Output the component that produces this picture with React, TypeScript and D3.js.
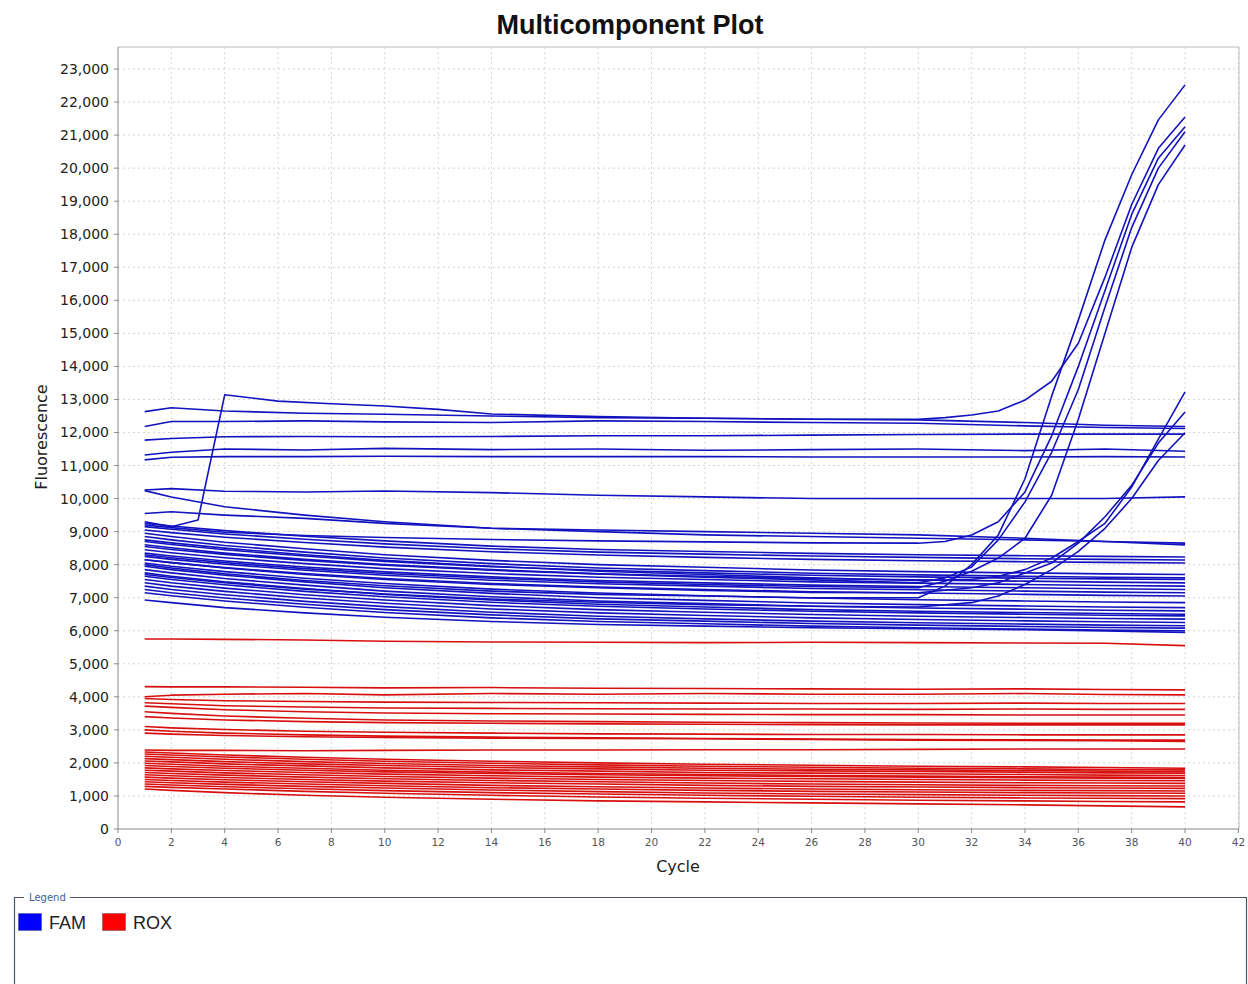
import * as d3 from 'd3';

const BASE_CYCLES = [1, 2, 4, 7, 10, 14, 18, 22, 26, 30, 34, 37, 40];

const famBaseline: number[][] = [
  [12630, 12750, 12650, 12580, 12550, 12500, 12450, 12430, 12400, 12380, 12300, 12220, 12180],
  [12180, 12330, 12330, 12350, 12320, 12300, 12350, 12330, 12300, 12280, 12200, 12150, 12120],
  [11770, 11820, 11870, 11880, 11870, 11880, 11900, 11900, 11920, 11940, 11950, 11950, 11950],
  [11320, 11400, 11500, 11470, 11520, 11480, 11500, 11460, 11480, 11500, 11450, 11500, 11430],
  [11170, 11250, 11270, 11270, 11280, 11270, 11270, 11270, 11260, 11260, 11260, 11270, 11260],
  [10260, 10300, 10220, 10200, 10230, 10180, 10100, 10050, 10000, 10000, 10000, 10000, 10050],
  [10240, 10050, 9750, 9500, 9300, 9100, 9000, 8900, 8850, 8800, 8750, 8700, 8650],
  [9550, 9600, 9500, 9400, 9250, 9100, 9050, 9000, 8950, 8900, 8800, 8700, 8600],
  [9250, 9170, 9030, 8860, 8720, 8560, 8460, 8400, 8340, 8300, 8270, 8250, 8230],
  [9150, 9070, 8930, 8770, 8630, 8480, 8380, 8320, 8260, 8220, 8180, 8160, 8140],
  [9050, 8970, 8830, 8670, 8530, 8390, 8290, 8220, 8160, 8120, 8090, 8070, 8050],
  [8950, 8850, 8680, 8480, 8300, 8130, 8000, 7920, 7840, 7790, 7750, 7720, 7700],
  [8850, 8750, 8580, 8380, 8200, 8030, 7900, 7820, 7740, 7690, 7650, 7620, 7600],
  [8700, 8610, 8450, 8260, 8100, 7940, 7830, 7750, 7680, 7630, 7590, 7570, 7550],
  [8550, 8460, 8310, 8130, 7980, 7830, 7720, 7650, 7580, 7540, 7500, 7470, 7450],
  [8450, 8360, 8210, 8030, 7880, 7730, 7620, 7550, 7480, 7440, 7400, 7370, 7350],
  [8350, 8260, 8110, 7930, 7780, 7630, 7520, 7450, 7380, 7340, 7300, 7270, 7250],
  [8250, 8160, 8010, 7830, 7680, 7530, 7420, 7350, 7280, 7240, 7200, 7170, 7150],
  [8150, 8060, 7910, 7730, 7580, 7430, 7320, 7250, 7180, 7140, 7100, 7070, 7050],
  [8050, 7950, 7790, 7590, 7430, 7260, 7140, 7060, 6990, 6940, 6900, 6870, 6850],
  [7950, 7850, 7680, 7480, 7300, 7130, 7000, 6920, 6840, 6790, 6750, 6720, 6700],
  [7850, 7750, 7580, 7380, 7200, 7030, 6900, 6820, 6740, 6690, 6650, 6620, 6600],
  [7750, 7650, 7480, 7280, 7100, 6930, 6800, 6720, 6640, 6590, 6550, 6520, 6500],
  [7650, 7550, 7390, 7190, 7030, 6860, 6740, 6660, 6590, 6540, 6500, 6470, 6450],
  [7550, 7450, 7290, 7090, 6930, 6760, 6640, 6560, 6490, 6440, 6400, 6370, 6350],
  [7450, 7350, 7190, 6990, 6830, 6660, 6540, 6460, 6390, 6340, 6300, 6270, 6250],
  [7350, 7250, 7090, 6890, 6730, 6560, 6440, 6360, 6290, 6240, 6200, 6170, 6150],
  [7250, 7150, 6990, 6800, 6640, 6480, 6360, 6290, 6220, 6170, 6130, 6100, 6080],
  [7150, 7060, 6900, 6710, 6550, 6390, 6280, 6210, 6140, 6090, 6050, 6020, 6000],
  [6930, 6850, 6700, 6540, 6410, 6280, 6190, 6140, 6090, 6060, 6030, 5990, 5950],
];

// wells that jump or amplify, read as [cycle, fluorescence]
const famCurves: [number, number][][] = [
  [[1, 9300], [2, 9150], [3, 9350], [4, 13140], [6, 12950], [8, 12870], [10, 12800], [12, 12700], [14, 12560], [18, 12480], [22, 12430], [26, 12400], [30, 12400], [31, 12450], [32, 12530], [33, 12650], [34, 12980], [35, 13550], [36, 14700], [37, 16700], [38, 18900], [39, 20600], [40, 21550]],
  [[1, 9200], [2, 9120], [4, 8980], [7, 8880], [10, 8820], [14, 8760], [18, 8720], [22, 8690], [26, 8660], [30, 8650], [31, 8700], [32, 8900], [33, 9300], [34, 10200], [35, 11900], [36, 14000], [37, 16300], [38, 18600], [39, 20300], [40, 21250]],
  [[1, 8000], [2, 7900], [4, 7720], [7, 7520], [10, 7360], [14, 7200], [18, 7100], [22, 7050], [26, 7000], [30, 7000], [31, 7350], [32, 8000], [33, 8900], [34, 10600], [35, 13100], [36, 15400], [37, 17830], [38, 19800], [39, 21460], [40, 22520]],
  [[1, 8600], [2, 8510], [4, 8350], [7, 8160], [10, 8000], [14, 7850], [18, 7720], [22, 7620], [26, 7540], [30, 7450], [31, 7600], [32, 7930], [33, 8750], [34, 9900], [35, 11400], [36, 13300], [37, 15800], [38, 18200], [39, 20000], [40, 21100]],
  [[1, 8300], [2, 8210], [4, 8060], [7, 7880], [10, 7730], [14, 7590], [18, 7480], [22, 7400], [26, 7340], [30, 7300], [31, 7500], [32, 7800], [33, 8200], [34, 8800], [35, 10100], [36, 12400], [37, 15000], [38, 17600], [39, 19500], [40, 20700]],
  [[1, 8750], [2, 8660], [4, 8500], [7, 8300], [10, 8130], [14, 7950], [18, 7800], [22, 7700], [26, 7600], [30, 7520], [32, 7550], [33, 7650], [34, 7850], [35, 8200], [36, 8700], [37, 9250], [38, 10350], [39, 11800], [40, 13230]],
  [[1, 8150], [2, 8060], [4, 7900], [7, 7700], [10, 7550], [14, 7400], [18, 7300], [22, 7220], [26, 7160], [30, 7150], [32, 7300], [33, 7450], [34, 7750], [35, 8050], [36, 8650], [37, 9450], [38, 10400], [39, 11680], [40, 12620]],
  [[1, 7700], [2, 7610], [4, 7450], [7, 7260], [10, 7110], [14, 6960], [18, 6860], [22, 6790], [26, 6740], [30, 6720], [32, 6850], [33, 7050], [34, 7400], [35, 7850], [36, 8400], [37, 9100], [38, 10000], [39, 11150], [40, 11990]],
];

const roxBaseline: number[][] = [
  [5750, 5750, 5740, 5720, 5680, 5660, 5650, 5640, 5650, 5640, 5630, 5620, 5550],
  [4310, 4300, 4300, 4290, 4270, 4280, 4260, 4250, 4240, 4230, 4240, 4220, 4210],
  [4000, 4050, 4080, 4100, 4060, 4100, 4080, 4100, 4080, 4080, 4100, 4070, 4060],
  [3950, 3920, 3880, 3860, 3840, 3830, 3820, 3810, 3800, 3800, 3810, 3800, 3800],
  [3820, 3790, 3730, 3690, 3660, 3650, 3640, 3630, 3630, 3620, 3630, 3620, 3620],
  [3720, 3680, 3610, 3550, 3510, 3490, 3480, 3470, 3460, 3460, 3450, 3450, 3450],
  [3550, 3500, 3420, 3350, 3300, 3270, 3250, 3230, 3220, 3210, 3200, 3200, 3200],
  [3400, 3360, 3300, 3250, 3220, 3200, 3180, 3170, 3160, 3150, 3150, 3150, 3150],
  [3100, 3060, 3010, 2960, 2930, 2900, 2880, 2870, 2860, 2860, 2850, 2850, 2850],
  [3000, 2960, 2900, 2850, 2810, 2780, 2760, 2740, 2720, 2710, 2700, 2690, 2690],
  [2900, 2870, 2830, 2790, 2770, 2750, 2740, 2730, 2710, 2690, 2680, 2670, 2650],
  [2390, 2380, 2380, 2370, 2380, 2390, 2390, 2400, 2400, 2410, 2420, 2420, 2420],
  [2330, 2300, 2240, 2170, 2110, 2050, 2000, 1960, 1930, 1900, 1880, 1860, 1840],
  [2270, 2240, 2180, 2110, 2050, 1990, 1940, 1900, 1870, 1840, 1820, 1800, 1790],
  [2200, 2170, 2110, 2040, 1980, 1920, 1880, 1840, 1810, 1790, 1770, 1750, 1740],
  [2130, 2100, 2040, 1970, 1920, 1860, 1820, 1780, 1760, 1740, 1720, 1700, 1690],
  [2060, 2030, 1970, 1910, 1850, 1790, 1750, 1710, 1690, 1670, 1650, 1630, 1620],
  [1990, 1960, 1900, 1840, 1780, 1720, 1680, 1650, 1620, 1600, 1580, 1570, 1560],
  [1920, 1890, 1840, 1780, 1730, 1680, 1640, 1610, 1590, 1570, 1550, 1540, 1530],
  [1850, 1820, 1770, 1710, 1660, 1610, 1570, 1540, 1520, 1500, 1480, 1470, 1460],
  [1780, 1750, 1700, 1640, 1590, 1540, 1500, 1470, 1440, 1420, 1400, 1390, 1380],
  [1710, 1680, 1630, 1570, 1520, 1470, 1430, 1390, 1360, 1340, 1320, 1310, 1300],
  [1640, 1610, 1560, 1500, 1450, 1400, 1360, 1320, 1290, 1270, 1250, 1240, 1230],
  [1570, 1540, 1490, 1430, 1380, 1320, 1280, 1240, 1210, 1190, 1170, 1160, 1150],
  [1500, 1470, 1420, 1360, 1310, 1250, 1210, 1170, 1140, 1120, 1100, 1090, 1080],
  [1430, 1400, 1350, 1290, 1240, 1180, 1130, 1090, 1060, 1040, 1020, 1010, 1000],
  [1360, 1330, 1280, 1220, 1160, 1100, 1060, 1020, 990, 960, 940, 930, 920],
  [1290, 1260, 1210, 1140, 1080, 1020, 970, 930, 900, 870, 850, 830, 820],
  [1210, 1170, 1100, 1020, 960, 900, 850, 820, 790, 760, 730, 700, 670],
];

const xTicks = d3.range(0, 43, 2);
const yTicks = d3.range(0, 23001, 1000);

const legendItems = [
  { name: 'FAM', color: '#0000ff' },
  { name: 'ROX', color: '#ff0000' },
];

const W = 1248;
const H = 984;
const plot = { left: 118, right: 1239, top: 47, bottom: 829 };

export default function App() {
  const x = d3.scaleLinear().domain([0, 42]).range([plot.left, plot.right - 0.6]);
  const y = d3.scaleLinear().domain([0, 23000]).range([plot.bottom, 69]);

  const line = d3
    .line<[number, number]>()
    .x(d => x(d[0]))
    .y(d => y(d[1]));

  const toPairs = (vals: number[]) =>
    vals.map((v, i) => [BASE_CYCLES[i], v] as [number, number]);

  const famPaths = [...famBaseline.map(toPairs), ...famCurves];
  const roxPaths = roxBaseline.map(toPairs);

  const font = '"DejaVu Sans", Arial, sans-serif';

  return (
    <div style={{ position: 'absolute', left: 0, top: 0 }}>
      <svg width={W} height={H} style={{ display: 'block', background: '#fff' }}>
        <text
          x={630}
          y={34}
          textAnchor="middle"
          fontFamily='"Liberation Sans", Arial, sans-serif'
          fontWeight="bold"
          fontSize={27}
          fill="#111"
        >
          Multicomponent Plot
        </text>

        {/* grid */}
        <g stroke="#d4d4d4" strokeWidth={1} strokeDasharray="2,3">
          {xTicks.slice(1).map(t => (
            <line key={'gx' + t} x1={x(t)} x2={x(t)} y1={plot.top} y2={plot.bottom} />
          ))}
          {yTicks.slice(1).map(t => (
            <line key={'gy' + t} x1={plot.left} x2={plot.right} y1={y(t)} y2={y(t)} />
          ))}
        </g>

        {/* plot frame */}
        <line x1={plot.left} x2={plot.right} y1={plot.top} y2={plot.top} stroke="#bbb" />
        <line x1={plot.right} x2={plot.right} y1={plot.top} y2={plot.bottom} stroke="#bbb" />
        <line x1={plot.left} x2={plot.left} y1={plot.top} y2={plot.bottom} stroke="#888" />
        <line x1={plot.left} x2={plot.right} y1={plot.bottom} y2={plot.bottom} stroke="#888" />

        {/* series */}
        <g fill="none" strokeWidth={1.6} strokeLinejoin="round">
          {roxPaths.map((p, i) => (
            <path key={'r' + i} d={line(p) || ''} stroke="#d80f0f" />
          ))}
          {famPaths.map((p, i) => (
            <path key={'f' + i} d={line(p) || ''} stroke="#1212bf" />
          ))}
        </g>

        {/* y axis */}
        <g fontFamily={font} fontSize={14} fill="#222">
          {yTicks.map(t => (
            <g key={'yt' + t}>
              <line x1={plot.left - 4} x2={plot.left} y1={y(t)} y2={y(t)} stroke="#888" />
              <text x={plot.left - 9} y={y(t) + 5} textAnchor="end">
                {d3.format(',')(t)}
              </text>
            </g>
          ))}
        </g>

        {/* x axis */}
        <g fontFamily={font} fontSize={10.5} fill="#555">
          {xTicks.map(t => (
            <g key={'xt' + t}>
              <line x1={x(t)} x2={x(t)} y1={plot.bottom} y2={plot.bottom + 4} stroke="#888" />
              <text x={x(t)} y={plot.bottom + 17} textAnchor="middle">
                {t}
              </text>
            </g>
          ))}
        </g>

        <text x={678} y={872} textAnchor="middle" fontFamily={font} fontSize={16} fill="#222">
          Cycle
        </text>
        <text
          transform="translate(47,437) rotate(-90)"
          textAnchor="middle"
          fontFamily={font}
          fontSize={16}
          fill="#222"
        >
          Fluorescence
        </text>

        {/* legend */}
        <path d="M24,897.5 H14.5 V984" fill="none" stroke="#4d5660" strokeWidth={1.2} />
        <path d="M70,897.5 H1246.5 V984" fill="none" stroke="#4d5660" strokeWidth={1.2} />
        <text x={29} y={901} fontFamily={font} fontSize={10} fill="#3d5e9c">
          Legend
        </text>
        {legendItems.map((item, i) => (
          <g key={item.name} transform={`translate(${18 + i * 84},913)`}>
            <rect x={0.5} y={0.5} width={23} height={17} fill={item.color} stroke="#333" strokeOpacity={0.35} />
            <text x={31} y={16} fontFamily='"Liberation Sans", Arial, sans-serif' fontSize={18} fill="#222">
              {item.name}
            </text>
          </g>
        ))}
      </svg>
    </div>
  );
}
